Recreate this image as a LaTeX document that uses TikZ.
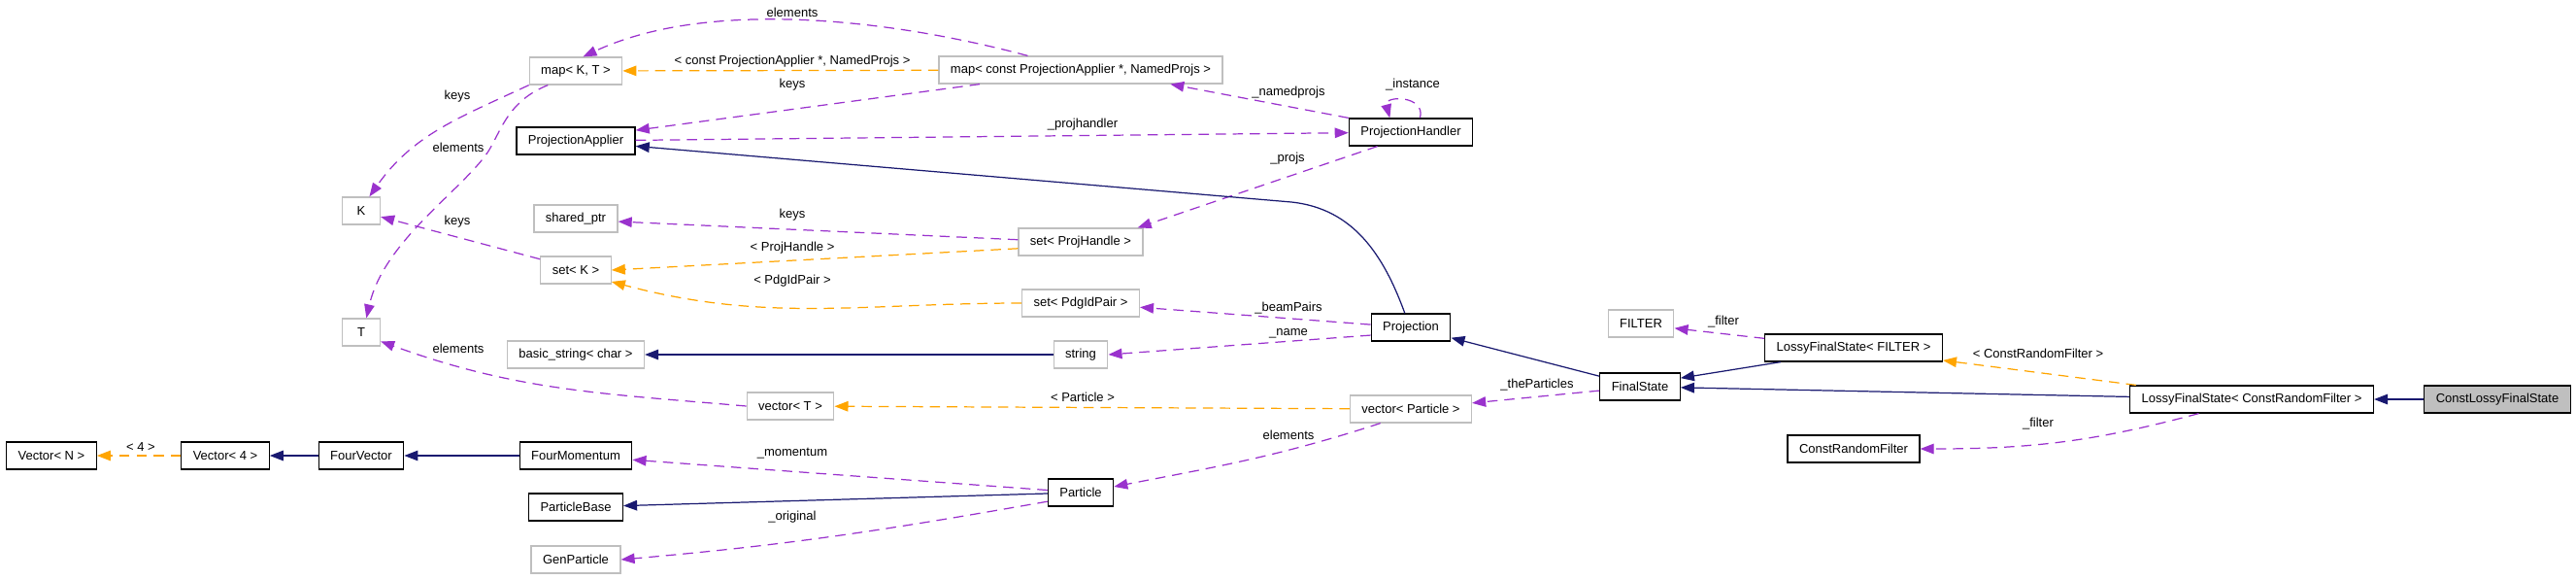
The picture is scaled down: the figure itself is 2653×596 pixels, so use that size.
\documentclass[tikz,border=0pt]{standalone}
\usepackage{fontspec}
\setmainfont{Liberation Sans}
\usetikzlibrary{arrows.meta}
\definecolor{inhblue}{RGB}{25,25,112}
\definecolor{usepurple}{RGB}{154,50,205}
\definecolor{tmplorange}{RGB}{255,165,0}
\definecolor{extgray}{RGB}{191,191,191}
\begin{document}
\begin{tikzpicture}[x=0.02cm, y=-0.02cm,
    every node/.style={font=\fontsize{7.4}{8.8}\selectfont},
    cls/.style={draw=black, line width=0.7pt, fill=white, rectangle, minimum height=0.56cm, minimum width=0.78cm, inner xsep=6.8pt, inner ysep=0pt},
    ext/.style={cls, draw=extgray},
    lbl/.style={inner sep=0pt},
    inh/.style={draw=inhblue, line width=0.7pt, -{Triangle[length=8pt,width=6pt]}},
    usage/.style={draw=usepurple, line width=0.7pt, dash pattern=on 6pt off 4pt, -{Triangle[length=8pt,width=6pt]}},
    tmpl/.style={usage, draw=tmplorange}]
    \useasboundingbox (0,0) rectangle (2653,596);

    \node[cls] (vecN) at (53,469) {Vector< N >};
    \node[cls] (vecFour) at (232,469) {Vector< 4 >};
    \node[cls] (fourVec) at (372,469) {FourVector};
    \node[ext] (K) at (372,217) {K};
    \node[ext] (T) at (372,342) {T};
    \node[ext] (mapKT) at (593,73) {map< K, T >};
    \node[cls] (projApplier) at (593,145) {ProjectionApplier};
    \node[ext] (sharedPtr) at (593,225) {shared\_ptr};
    \node[ext] (setK) at (593,278) {set< K >};
    \node[ext] (basicStr) at (593,365) {basic\_string< char >};
    \node[cls] (fourMom) at (593,469) {FourMomentum};
    \node[cls] (partBase) at (593,522) {ParticleBase};
    \node[ext] (genPart) at (593,576) {GenParticle};
    \node[ext] (vecT) at (814,418) {vector< T >};
    \node[ext] (mapNamed) at (1113,72) {map< const ProjectionApplier *, NamedProjs >};
    \node[ext] (setProjH) at (1113,249) {set< ProjHandle >};
    \node[ext] (setPdg) at (1113,312) {set< PdgIdPair >};
    \node[ext] (string) at (1113,365) {string};
    \node[cls] (particle) at (1113,507) {Particle};
    \node[cls] (projHandler) at (1453,136) {ProjectionHandler};
    \node[cls] (projection) at (1453,337) {Projection};
    \node[ext] (vecPart) at (1453,421) {vector< Particle >};
    \node[ext] (filter) at (1690,333) {FILTER};
    \node[cls] (finalState) at (1689,398) {FinalState};
    \node[cls] (lossyFilter) at (1909,358) {LossyFinalState< FILTER >};
    \node[cls] (constRF) at (1909,462) {ConstRandomFilter};
    \node[cls] (lossyConst) at (2319,411) {LossyFinalState< ConstRandomFilter >};
    \node[cls, fill=extgray] (constLossy) at (2572,411) {ConstLossyFinalState};

    \draw[tmpl] (vecFour) -- (vecN);
    \draw[inh] (fourVec) -- (vecFour);
    \draw[inh] (fourMom) -- (fourVec);
    \draw[usage] (particle) -- (fourMom);
    \draw[inh] (particle) -- (partBase);
    \draw[usage] (particle.195) to[out=190,in=5] (genPart.east);
    \draw[usage] (vecPart.205) to[out=198,in=11] (particle.10);
    \draw[tmpl] (vecPart) -- (vecT);
    \draw[usage] (vecT.west) to[out=175,in=-20] (T.-25);
    \draw[inh] (string) -- (basicStr);
    \draw[usage] (projection.191) -- (string.east);
    \draw[usage] (projection.176) -- (setPdg.-4);
    \draw[tmpl] (setPdg.west) to[out=180,in=-15] (setK.-18);
    \draw[tmpl] (setProjH.186) -- (setK.east);
    \draw[usage] (setProjH.178) -- (sharedPtr.-4);
    \draw[usage] (setK.163) -- (K.-17);
    \draw[usage] (mapKT.south west) to[out=205,in=55] (K.60);
    \draw[usage] (mapKT.207) .. controls (520,105) and (515,140) .. (500,160) .. controls (470,200) and (395,250) .. (T.70);
    \draw[tmpl] (mapNamed) -- (mapKT);
    \draw[usage] (mapNamed.165) to[out=165,in=25,looseness=0.8] (mapKT.63);
    \draw[usage] (mapNamed.188) -- (projApplier.10);
    \draw[usage] (projApplier) -- (projHandler);
    \draw[usage] (projHandler.north west) -- (mapNamed.-9);
    \draw[usage] (projHandler.57) to[out=75,in=105,looseness=2] (projHandler.146);
    \draw[usage] (projHandler.203) -- (setProjH.14);
    \draw[inh] (projection.113) to[out=110,in=-6] (1330,208) -- (projApplier.-5);
    \draw[inh] (finalState) -- (projection);
    \draw[usage] (finalState) -- (vecPart);
    \draw[inh] (lossyFilter.191) -- (finalState.12);
    \draw[usage] (lossyFilter.174) -- (filter.-8);
    \draw[inh] (lossyConst) -- (finalState);
    \draw[tmpl] (lossyConst.173) -- (lossyFilter.-8);
    \draw[usage] (lossyConst.195) to[out=195,in=0] (constRF.east);
    \draw[inh] (constLossy) -- (lossyConst);

    \node[lbl] (lFour) at (145,460) {< 4 >};
    \node[lbl] (lKeysMap) at (471,99) {keys};
    \node[lbl] (lElemMap) at (472,152) {elements};
    \node[lbl] (lKeysSet) at (471,228) {keys};
    \node[lbl] (lElemVec) at (472,359) {elements};
    \node[lbl] (lElemTop) at (816,13) {elements};
    \node[lbl] (lConstPA) at (816,63) {< const ProjectionApplier *, NamedProjs >};
    \node[lbl] (lKeysPA) at (816,87) {keys};
    \node[lbl] (lKeysPH) at (816,221) {keys};
    \node[lbl] (lProjH) at (816,255) {< ProjHandle >};
    \node[lbl] (lPdg) at (816,289) {< PdgIdPair >};
    \node[lbl] (lMom) at (816,467) {\_momentum};
    \node[lbl] (lOrig) at (816,532) {\_original};
    \node[lbl] (lPart) at (1115,409) {< Particle >};
    \node[lbl] (lProjHandler) at (1115,128) {\_projhandler};
    \node[lbl] (lNamed) at (1327,95) {\_namedprojs};
    \node[lbl] (lProjs) at (1326,163) {\_projs};
    \node[lbl] (lInst) at (1455,87) {\_instance};
    \node[lbl] (lBeam) at (1327,317) {\_beamPairs};
    \node[lbl] (lName) at (1327,343) {\_name};
    \node[lbl] (lElemPart) at (1327,448) {elements};
    \node[lbl] (lTheP) at (1583,396) {\_theParticles};
    \node[lbl] (lFilt) at (1775,331) {\_filter};
    \node[lbl] (lCRF) at (2099,364) {< ConstRandomFilter >};
    \node[lbl] (lFiltC) at (2099,436) {\_filter};
\end{tikzpicture}
\end{document}
